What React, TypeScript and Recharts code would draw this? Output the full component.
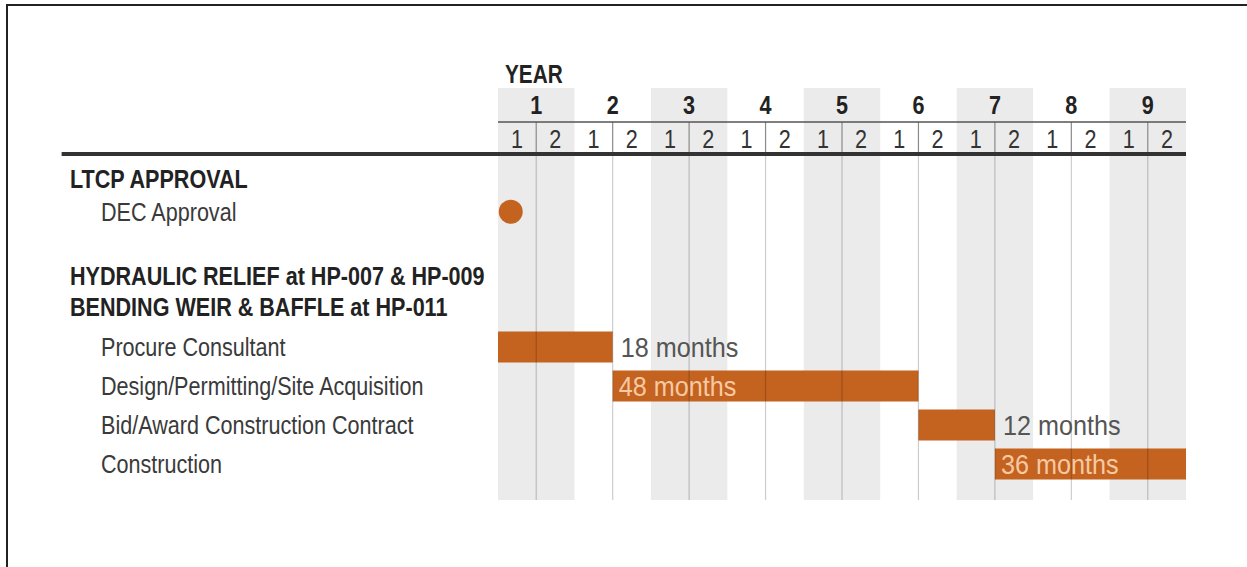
import React from "react";
import {
  Bar,
  ComposedChart,
  LabelList,
  ReferenceArea,
  ReferenceLine,
  Scatter,
  XAxis,
  YAxis,
} from "recharts";

// header categories
const years = [1, 2, 3, 4, 5, 6, 7, 8, 9];
const halves = ["1", "2"];

// left-hand rows, positions are in "row units" on the y axis (top = 0)
const rowLabels = [
  "LTCP APPROVAL",
  "DEC Approval",
  "HYDRAULIC RELIEF at HP-007 & HP-009",
  "BENDING WEIR & BAFFLE at HP-011",
  "Procure Consultant",
  "Design/Permitting/Site Acquisition",
  "Bid/Award Construction Contract",
  "Construction",
];
const rowPos = [2.32, 3.17, 4.8, 5.6, 6.64, 7.64, 8.64, 9.64];
const rowIsHeading = [true, false, true, true, false, false, false, false];

// tasks (months from start)
const taskNames = [
  "Procure Consultant",
  "Design/Permitting/Site Acquisition",
  "Bid/Award Construction Contract",
  "Construction",
];
const taskStart = [0, 18, 66, 78];
const taskMonths = [18, 48, 12, 36];
const taskLabelInside = [false, true, false, true];

// milestones
const milestoneNames = ["DEC Approval"];
const milestoneMonth = [2];

const Y_MAX = 10.56;
const THIN_RULE = 0.87;
const THICK_RULE = 1.69;
const MONTHS = years.length * 12;

const FONT = "'Liberation Sans', Arial, sans-serif";
const SQUEEZE = 0.83;
const ORANGE = "#c4621f";

const tasks = taskNames.map((name, i) => ({
  name,
  pos: rowPos[rowLabels.indexOf(name)],
  range: [taskStart[i], taskStart[i] + taskMonths[i]],
  label: `${taskMonths[i]} months`,
}));

const milestones = milestoneNames.map((name, i) => ({
  name,
  month: milestoneMonth[i],
  pos: rowPos[rowLabels.indexOf(name)],
}));

const headerTicks = years.flatMap((_, i) => [i * 12 + 3, i * 12 + 6, i * 12 + 9]);

// narrow text: regular font squeezed horizontally
const NarrowText = ({ x, y, sx = SQUEEZE, children, ...rest }: any) => (
  <text
    transform={`translate(${x},${y}) scale(${sx},1)`}
    x={0}
    y={0}
    dominantBaseline="central"
    fontFamily={FONT}
    {...rest}
  >
    {children}
  </text>
);

const HeaderTick = (props: any) => {
  const { x, y, payload } = props;
  const v = payload.value;
  if (v % 12 === 6) {
    return (
      <NarrowText x={x} y={y + 17} textAnchor="middle" fontSize={26} fontWeight="bold" fill="#222">
        {years[(v - 6) / 12]}
      </NarrowText>
    );
  }
  return (
    <NarrowText x={x} y={y + 51} textAnchor="middle" fontSize={26} fill="#333">
      {halves[Math.floor((v % 12) / 6)]}
    </NarrowText>
  );
};

const RowTick = (props: any) => {
  const { y, payload } = props;
  const i = rowPos.indexOf(payload.value);
  if (i < 0) return null;
  const heading = rowIsHeading[i];
  return (
    <NarrowText
      x={heading ? 70 : 101}
      y={y}
      fontSize={26}
      fontWeight={heading ? "bold" : "normal"}
      fill={heading ? "#222" : "#3a3a3a"}
    >
      {rowLabels[i]}
    </NarrowText>
  );
};

const BarLabel = (props: any) => {
  const { x, y, width, height, index, value } = props;
  const inside = taskLabelInside[index];
  return (
    <NarrowText
      x={inside ? x + 6 : x + width + 8}
      y={y + height / 2}
      sx={0.9}
      fontSize={28}
      fill={inside ? "#f7c9a3" : "#555"}
    >
      {value}
    </NarrowText>
  );
};

export default function App() {
  return (
    <div
      style={{
        position: "absolute",
        left: 0,
        top: 0,
        width: 1247,
        height: 567,
        overflow: "hidden",
        background: "#fff",
        fontFamily: FONT,
      }}
    >
      <div
        style={{
          position: "absolute",
          left: 6,
          top: 4,
          width: 1400,
          height: 700,
          borderTop: "2px solid #222",
          borderLeft: "2px solid #222",
        }}
      />
      <div
        style={{
          position: "absolute",
          left: 505,
          top: 60,
          fontSize: 25,
          fontWeight: "bold",
          color: "#222",
          transform: `scaleX(${SQUEEZE})`,
          transformOrigin: "left top",
        }}
      >
        YEAR
      </div>
      <div style={{ position: "absolute", left: 0, top: 0 }}>
        <ComposedChart
          width={1247}
          height={567}
          layout="vertical"
          data={tasks}
          margin={{ top: 88, right: 61, bottom: 67, left: 0 }}
        >
          <XAxis
            type="number"
            orientation="top"
            mirror
            domain={[0, MONTHS]}
            allowDataOverflow
            ticks={headerTicks}
            interval={0}
            axisLine={false}
            tickLine={false}
            tickSize={0}
            tickMargin={0}
            tick={<HeaderTick />}
          />
          <YAxis
            type="number"
            dataKey="pos"
            domain={[0, Y_MAX]}
            ticks={rowPos}
            interval={0}
            width={498}
            axisLine={false}
            tickLine={false}
            tickSize={0}
            tick={<RowTick />}
          />
          {years
            .filter((yr) => yr % 2 === 1)
            .map((yr) => (
              <ReferenceArea
                key={`shade-${yr}`}
                x1={(yr - 1) * 12}
                x2={yr * 12}
                fill="#ebebeb"
                fillOpacity={1}
                stroke="none"
              />
            ))}
          <Bar dataKey="range" fill={ORANGE} barSize={31} isAnimationActive={false}>
            <LabelList dataKey="label" content={<BarLabel />} />
          </Bar>
          {years.map((yr) => (
            <ReferenceLine
              key={`hdr-${yr}`}
              segment={[
                { x: (yr - 1) * 12 + 6, y: THIN_RULE },
                { x: (yr - 1) * 12 + 6, y: THICK_RULE },
              ]}
              stroke="#8a8a8a"
              strokeWidth={1.2}
            />
          ))}
          {years.map((yr) => (
            <ReferenceLine
              key={`body-${yr}`}
              segment={[
                { x: (yr - 1) * 12 + 6, y: THICK_RULE },
                { x: (yr - 1) * 12 + 6, y: Y_MAX },
              ]}
              stroke="#000"
              strokeOpacity={0.2}
              strokeWidth={1.2}
            />
          ))}
          <ReferenceLine y={THIN_RULE} stroke="#555" strokeWidth={1.5} />
          <ReferenceLine
            segment={[
              { x: -68.5, y: THICK_RULE },
              { x: MONTHS, y: THICK_RULE },
            ]}
            ifOverflow="visible"
            stroke="#333"
            strokeWidth={4}
          />
          <Scatter
            data={milestones}
            dataKey="month"
            fill={ORANGE}
            isAnimationActive={false}
            shape={(p: any) => <circle cx={p.cx} cy={p.cy} r={12} fill={ORANGE} />}
          />
        </ComposedChart>
      </div>
    </div>
  );
}
